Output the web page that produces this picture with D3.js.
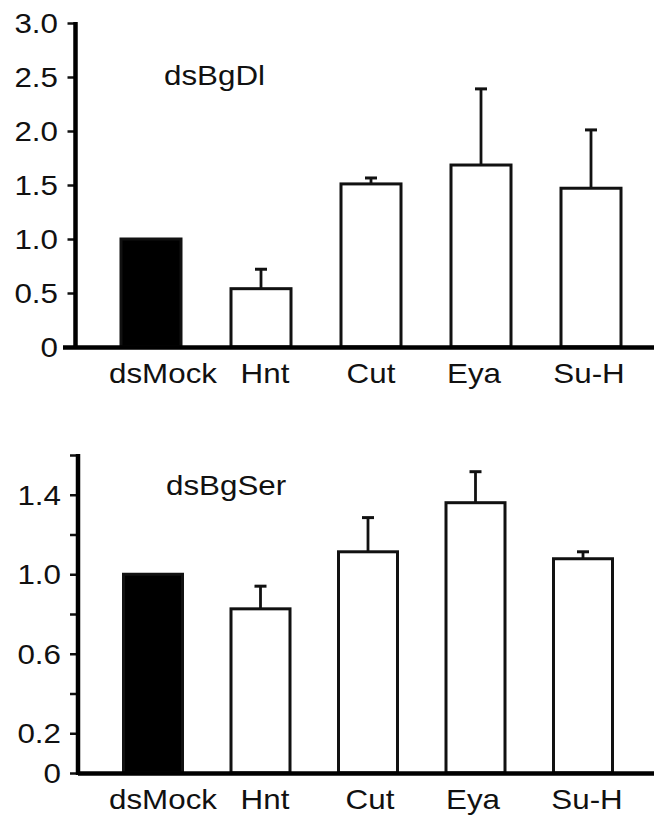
<!DOCTYPE html>
<html>
<head>
<meta charset="utf-8">
<script src="https://cdn.jsdelivr.net/npm/d3@7"></script>
<style>
  html, body { margin: 0; padding: 0; background: #fff; }
  svg text { font-family: "Liberation Sans", Arial, sans-serif; fill: #111; }
</style>
</head>
<body>
<svg id="chart" width="654" height="818"></svg>
<script>
// ---- data ----
const categories = ["dsMock", "Hnt", "Cut", "Eya", "Su-H"];

const dlTitle = "dsBgDl";
const dlValues = [1.0, 0.54, 1.51, 1.685, 1.47];
const dlErrors = [0, 0.18, 0.055, 0.705, 0.54];
const dlTicks = [0, 0.5, 1.0, 1.5, 2.0, 2.5, 3.0];
const dlTickLabels = ["0", "0.5", "1.0", "1.5", "2.0", "2.5", "3.0"];

const serTitle = "dsBgSer";
const serValues = [1.0, 0.826, 1.113, 1.36, 1.078];
const serErrors = [0, 0.114, 0.172, 0.156, 0.035];
const serTicks = [0, 0.2, 0.4, 0.6, 0.8, 1.0, 1.2, 1.4, 1.6];
const serTickLabels = ["0", "0.2", "", "0.6", "", "1.0", "", "1.4", ""];

const fills = ["#000", "#fff", "#fff", "#fff", "#fff"];

const svg = d3.select("#chart");
const FONT = 28, SX = 1.12;

function txt(parent, x, y, s, anchor) {
  return parent.append("text")
    .attr("transform", `translate(${x},${y}) scale(${SX},1)`)
    .attr("text-anchor", anchor || "start")
    .attr("font-size", FONT)
    .text(s);
}

function panel(cfg) {
  const g = svg.append("g");
  const y = d3.scaleLinear().domain(cfg.domain).range([cfg.y0, cfg.y1]);
  const x = d3.scalePoint().domain(categories).range(cfg.xRange);
  const lx = d3.scaleOrdinal().domain(categories).range(cfg.labelX);
  const data = categories.map((c, i) => ({c, v: cfg.values[i], e: cfg.errors[i], f: fills[i]}));

  // error bars (behind bars)
  const eb = g.selectAll(".err").data(data.filter(d => d.e > 0)).join("g");
  eb.append("line")
    .attr("x1", d => x(d.c)).attr("x2", d => x(d.c))
    .attr("y1", d => y(d.v)).attr("y2", d => y(d.v + d.e))
    .attr("stroke", "#111").attr("stroke-width", 2.8);
  eb.append("line")
    .attr("x1", d => x(d.c) - 6).attr("x2", d => x(d.c) + 6)
    .attr("y1", d => y(d.v + d.e)).attr("y2", d => y(d.v + d.e))
    .attr("stroke", "#111").attr("stroke-width", 3);

  // bars
  g.selectAll(".bar").data(data).join("rect")
    .attr("x", d => x(d.c) - cfg.bw / 2)
    .attr("width", cfg.bw)
    .attr("y", d => y(d.v))
    .attr("height", d => y(0) - y(d.v))
    .attr("fill", d => d.f)
    .attr("stroke", "#111")
    .attr("stroke-width", 3);

  // y axis ticks via d3 axis, labels re-drawn with horizontal stretch
  const ax = d3.axisLeft(y).tickValues(cfg.ticks).tickSize(8).tickFormat(() => "");
  const ag = g.append("g").attr("transform", `translate(${cfg.axisX},0)`).call(ax);
  ag.select(".domain").remove();
  ag.selectAll(".tick line").attr("stroke", "#111").attr("stroke-width", 2.5);
  ag.selectAll(".tick text").remove();
  cfg.ticks.forEach((t, i) => {
    if (cfg.tickLabels[i]) txt(g, cfg.labelRight, y(t), cfg.tickLabels[i], "end").attr("dy", "0.35em");
  });
  g.append("line")
    .attr("x1", cfg.axisX).attr("x2", cfg.axisX)
    .attr("y1", y(cfg.domain[1]) - 1).attr("y2", y(0) + 2)
    .attr("stroke", "#000").attr("stroke-width", 4.5);

  // x axis
  g.append("line")
    .attr("x1", cfg.xAxisStart).attr("x2", 654)
    .attr("y1", y(0) + cfg.xOff).attr("y2", y(0) + cfg.xOff)
    .attr("stroke", "#000").attr("stroke-width", 4.5);

  // category labels
  categories.forEach(c => txt(g, lx(c), y(0) + 36, c, "middle"));

  // title
  txt(g, cfg.titleX, cfg.titleY, cfg.title, "start");
}

panel({
  domain: [0, 3], y0: 347, y1: 23, xRange: [151, 591], bw: 60,
  labelX: [163, 265, 371, 474, 589], labelRight: 58,
  values: dlValues, errors: dlErrors, ticks: dlTicks, tickLabels: dlTickLabels,
  axisX: 75.5, xAxisStart: 63, xOff: 0.5, title: dlTitle, titleX: 164, titleY: 85
});

panel({
  domain: [0, 1.6], y0: 773, y1: 455, xRange: [153, 583], bw: 59,
  labelX: [163, 265, 370, 473, 587], labelRight: 61,
  values: serValues, errors: serErrors, ticks: serTicks, tickLabels: serTickLabels,
  axisX: 78, xAxisStart: 78, xOff: 0.5, title: serTitle, titleX: 166, titleY: 495
});
</script>
</body>
</html>
